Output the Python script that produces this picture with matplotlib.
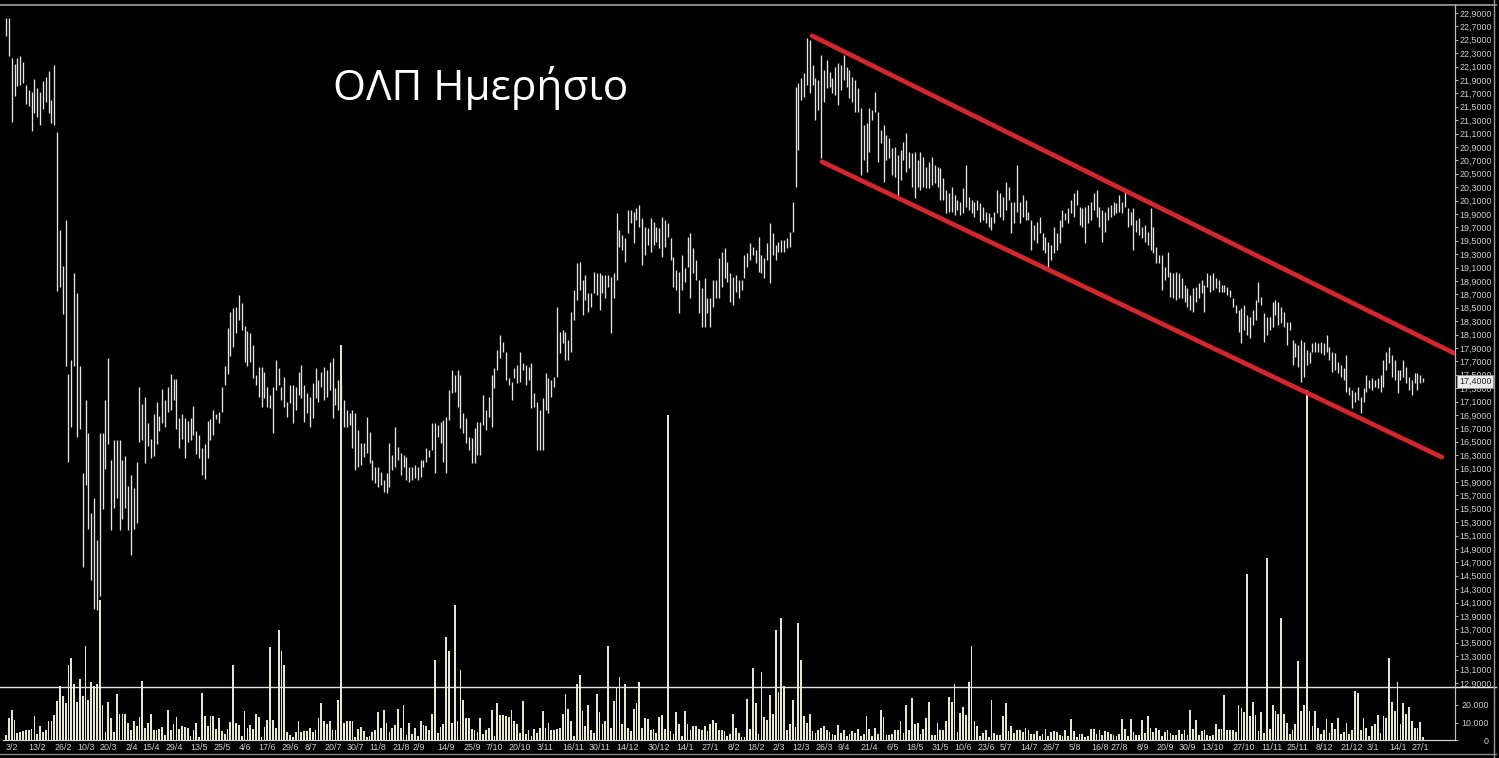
import numpy as np
import matplotlib
matplotlib.use("Agg")
import matplotlib.pyplot as plt
from matplotlib.lines import Line2D
import matplotlib.transforms as mtransforms

plt.rcParams['font.family'] = ['Liberation Sans', 'DejaVu Sans']

# ---------------- data (daily high / low, volume in thousands) ----------------
high_1 = [22.82, 22.82, 22.23, 22.14, 22.23, 22.26, 22.17, 21.83, 21.75, 21.72, 21.91, 21.78, 21.72, 21.89, 21.95, 22.03, 21.60, 22.12,
          21.12, 19.66, 19.12, 19.81, 17.51, 17.72, 19.02, 18.72, 17.63, 16.03,
          17.12, 16.63, 15.44, 15.66, 15.03, 16.63, 16.63, 17.12, 17.75, 16.23,
          16.53, 16.53, 16.53, 16.23, 16.29, 15.84, 16.00, 15.81, 16.20, 17.32,
          17.06, 17.17, 16.78, 16.54, 16.91, 17.09, 16.88, 17.29, 17.12, 17.32,
          17.51, 17.44, 17.44, 16.86, 16.91, 16.86, 16.81, 16.86, 17.03, 16.66,
          16.60, 16.41, 16.47, 16.81, 16.84, 16.97, 16.91, 16.94, 17.32, 17.63,
          18.20, 18.44, 18.50, 18.51, 18.69, 18.57, 18.23, 18.15]
low_1 = [22.55, 22.26, 21.28, 21.66, 21.81, 21.83, 21.86, 21.54, 21.51, 21.14, 21.41, 21.35, 21.23, 21.47, 21.57, 21.41, 21.26, 21.23,
         18.75, 18.81, 18.41, 17.63, 16.20, 16.72, 17.63, 16.57, 16.69, 14.63,
         15.86, 15.20, 14.44, 14.00, 13.99, 14.20, 15.50, 16.09, 16.47, 15.18,
         15.51, 15.66, 15.18, 15.35, 15.51, 15.18, 14.81, 15.20, 15.29, 16.50,
         16.53, 16.18, 16.44, 16.26, 16.29, 16.47, 16.66, 16.78, 16.72, 16.94,
         16.97, 17.12, 16.69, 16.41, 16.54, 16.26, 16.50, 16.53, 16.60, 16.32,
         16.26, 16.00, 15.94, 16.26, 16.53, 16.60, 16.84, 16.78, 16.94, 17.35,
         17.51, 17.78, 17.91, 18.12, 18.32, 18.17, 17.69, 17.63]

high_2 = [18.13, 17.95, 17.50, 17.62, 17.62, 17.54, 17.32, 17.20, 17.32, 17.72,
          17.60, 17.32, 17.47, 17.09, 17.35, 17.35, 17.32, 17.54, 17.65, 17.35,
          17.23, 17.17, 17.38, 17.60, 17.42, 17.54, 17.62, 17.57, 17.69, 17.75,
          17.30, 17.42, 17.35, 17.12, 16.97, 16.93, 16.97, 16.93, 16.68, 16.48,
          16.48, 16.87, 16.65, 16.23, 16.12, 16.12, 16.05, 15.93, 16.03, 16.48,
          16.30, 16.72, 16.42, 16.33, 16.30, 16.27, 16.12, 16.12, 16.15, 16.12,
          16.23, 16.23, 16.41, 16.38, 16.78, 16.78, 16.75, 16.80, 16.83, 16.87,
          17.27, 17.57, 17.50, 17.57, 17.50, 16.93, 16.86, 16.57, 16.56, 16.70,
          16.80, 16.80, 17.20, 16.97, 17.17, 17.50, 17.60, 17.87, 18.10, 17.99,
          17.84, 17.45, 17.39, 17.60, 17.65, 17.84, 17.68, 17.65, 17.62, 17.68,
          17.23, 17.09, 16.97]
low_2 = [17.69, 17.45, 17.35, 17.17, 17.02, 17.15, 17.02, 17.00, 16.63, 17.27,
         17.35, 17.12, 17.02, 16.87, 17.08, 16.78, 16.97, 17.20, 17.15, 16.80,
         16.93, 16.72, 16.86, 17.15, 17.09, 17.32, 17.12, 17.17, 17.27, 16.86,
         17.05, 16.97, 17.12, 16.72, 16.72, 16.75, 16.41, 16.08, 16.12, 16.15,
         16.27, 16.33, 16.18, 15.93, 15.88, 15.83, 15.86, 15.75, 15.74, 15.83,
         16.08, 16.12, 16.23, 16.00, 16.12, 15.93, 15.90, 15.93, 15.96, 15.93,
         15.97, 16.12, 16.20, 16.27, 16.38, 16.03, 16.57, 16.48, 16.20, 16.03,
         16.83, 17.23, 17.24, 17.02, 16.70, 16.63, 16.48, 16.38, 16.18, 16.18,
         16.30, 16.30, 16.75, 16.68, 16.87, 16.72, 17.30, 17.57, 17.75, 17.84,
         17.42, 17.35, 17.12, 17.45, 17.38, 17.39, 17.57, 17.35, 17.42, 17.00,
         17.02, 16.38, 16.38]

high_3 = [17.15, 17.53, 17.45, 17.42, 17.47, 18.51, 18.14, 18.17, 18.14, 18.02,
          18.44, 18.77, 19.17, 19.18, 18.91, 18.99, 18.72, 18.72, 19.03, 19.02,
          19.02, 18.99, 18.99, 18.99, 18.96, 19.02, 19.91, 19.66, 19.59, 19.54,
          19.96, 19.96, 19.93, 19.99, 20.03, 19.84, 19.71, 19.69, 19.84, 19.78,
          19.71, 19.69, 19.86, 19.81, 19.77, 19.54, 19.26, 19.06, 19.03, 19.29,
          19.09, 19.56, 19.62, 19.39, 19.21, 18.91, 18.79, 18.94, 18.65, 18.65,
          18.91, 18.91, 19.24, 19.33, 19.39, 19.18, 19.02, 18.96, 18.99, 18.91,
          18.91, 19.29, 19.32, 19.47, 19.41, 19.36, 19.56, 19.29, 19.24, 19.47,
          19.77, 19.62, 19.44, 19.48, 19.51, 19.51, 19.54, 19.63, 20.08, 21.80]
low_3 = [16.38, 16.97, 16.93, 17.17, 17.32, 17.47, 17.83, 17.97, 17.72, 17.72,
         17.84, 18.32, 18.62, 18.77, 18.39, 18.62, 18.44, 18.51, 18.72, 18.69,
         18.47, 18.72, 18.65, 18.81, 18.12, 18.65, 18.91, 19.41, 19.36, 19.18,
         19.62, 19.77, 19.47, 19.81, 19.71, 19.14, 19.29, 19.44, 19.33, 19.44,
         19.48, 19.39, 19.26, 19.41, 19.56, 19.21, 18.81, 18.77, 18.42, 18.77,
         18.89, 19.11, 18.65, 19.02, 18.91, 18.42, 18.21, 18.21, 18.42, 18.21,
         18.51, 18.65, 18.65, 18.81, 18.94, 18.89, 18.59, 18.54, 18.74, 18.65,
         18.77, 18.94, 19.11, 19.21, 19.29, 19.17, 19.03, 19.02, 18.94, 19.21,
         18.87, 19.29, 19.21, 19.33, 19.33, 19.33, 19.39, 19.41, 19.63, 20.30]

high_4 = [21.86, 21.93, 22.00, 22.53, 22.50, 22.12, 21.93, 21.90, 22.27, 22.05,
          22.20, 22.02, 21.93, 22.09, 22.15, 22.12, 22.27, 22.09, 22.05, 21.95,
          21.90, 21.78, 21.48, 21.23, 21.26, 21.48, 21.45, 21.72, 21.42, 21.15,
          21.23, 21.08, 21.03, 20.89, 20.90, 20.78, 20.86, 20.97, 21.11, 20.83,
          20.81, 20.83, 20.71, 20.83, 20.75, 20.60, 20.68, 20.75, 20.63, 20.60,
          20.59, 20.44, 20.26, 20.21, 20.30, 20.18, 20.11, 20.08, 20.29, 20.63,
          20.15, 20.11, 20.08, 20.11, 20.06, 20.00, 19.93, 19.91, 19.86, 19.93,
          20.26, 20.21, 20.15, 20.38, 20.30, 20.08, 20.08, 20.63, 20.08, 20.18,
          20.11, 19.93, 19.81, 19.74, 19.78, 19.86, 19.62, 19.56, 19.48, 19.44,
          19.71, 19.62, 19.81, 19.96, 19.91, 19.99, 20.11, 20.21, 20.26, 20.00,
          19.99, 20.00, 20.03, 20.08, 20.21, 20.26, 20.00, 19.96, 19.93, 20.00,
          20.03, 20.08, 20.06, 20.18, 20.08, 20.23]
low_4 = [20.86, 21.60, 21.65, 21.83, 21.71, 21.83, 21.30, 21.45, 20.74, 21.57,
         21.78, 21.80, 21.71, 21.68, 21.53, 21.75, 21.90, 21.80, 21.63, 21.57,
         21.42, 21.42, 20.48, 20.71, 20.53, 20.83, 21.30, 21.42, 20.68, 20.96,
         20.38, 20.71, 20.74, 20.48, 20.45, 20.11, 20.41, 20.71, 20.53, 20.59,
         20.30, 20.14, 20.30, 20.26, 20.30, 20.29, 20.29, 20.33, 20.36, 20.30,
         20.11, 20.11, 19.91, 19.93, 19.93, 19.89, 19.96, 19.89, 19.91, 20.00,
         19.96, 19.91, 19.86, 19.96, 19.78, 19.81, 19.77, 19.71, 19.66, 19.77,
         19.91, 19.86, 19.81, 19.96, 20.11, 19.62, 19.77, 19.93, 19.77, 19.86,
         19.81, 19.81, 19.36, 19.51, 19.47, 19.62, 19.36, 19.32, 19.09, 19.21,
         19.32, 19.36, 19.47, 19.71, 19.81, 19.77, 19.91, 19.86, 20.03, 19.74,
         19.71, 19.47, 19.77, 19.81, 19.96, 19.86, 19.71, 19.48, 19.63, 19.81,
         19.86, 19.89, 19.91, 19.93, 19.91, 20.00]

high_5 = [19.99, 19.93, 19.99, 19.81, 19.84, 19.71, 19.74, 19.63, 19.99, 19.71,
          19.41, 19.29, 19.29, 19.11, 19.33, 19.03, 19.02, 19.03, 19.02, 18.94,
          18.84, 18.79, 18.69, 18.79, 18.81, 18.87, 18.91, 18.84, 19.02, 18.99,
          19.02, 18.94, 18.91, 18.84, 18.84, 18.81, 18.77, 18.65, 18.54, 18.47,
          18.50, 18.54, 18.39, 18.36, 18.47, 18.62, 18.88, 18.66, 18.42, 18.36,
          18.36, 18.59, 18.62, 18.59, 18.51, 18.44, 18.29, 18.29, 18.02, 17.97,
          17.94, 18.02, 17.99, 17.87, 17.84, 17.97, 17.99, 17.97, 17.99, 17.97,
          18.09, 17.92, 17.84, 17.83, 17.69, 17.65, 17.60, 17.80, 17.32, 17.27,
          17.24, 17.32, 17.17, 17.30, 17.50, 17.42, 17.45, 17.42, 17.45, 17.50,
          17.72, 17.84, 17.92, 17.80, 17.72, 17.57, 17.57, 17.72, 17.62, 17.47,
          17.42, 17.53, 17.53, 17.50, 17.45]
low_5 = [19.71, 19.74, 19.36, 19.63, 19.59, 19.54, 19.48, 19.44, 19.36, 19.32,
         19.17, 19.17, 18.77, 18.91, 18.96, 18.66, 18.65, 18.62, 18.65, 18.65,
         18.59, 18.51, 18.47, 18.44, 18.59, 18.65, 18.72, 18.44, 18.81, 18.74,
         18.77, 18.79, 18.74, 18.74, 18.74, 18.69, 18.66, 18.51, 18.42, 18.14,
         17.97, 18.17, 18.09, 18.05, 18.24, 18.32, 18.59, 18.54, 17.99, 18.09,
         18.17, 18.21, 18.39, 18.24, 18.27, 18.21, 17.94, 18.17, 17.65, 17.77,
         17.62, 17.39, 17.47, 17.65, 17.68, 17.84, 17.84, 17.84, 17.83, 17.80,
         17.84, 17.72, 17.54, 17.57, 17.53, 17.47, 17.42, 17.24, 17.20, 17.00,
         17.09, 17.12, 16.93, 17.09, 17.24, 17.30, 17.27, 17.32, 17.30, 17.24,
         17.32, 17.57, 17.68, 17.47, 17.42, 17.23, 17.42, 17.47, 17.38, 17.27,
         17.20, 17.38, 17.27, 17.38, 17.39]

vol_1 = [3, 12.5, 17, 11.5, 4, 4.5, 5, 5.5, 6, 6.5,
         13.5, 3.5, 8, 4.5, 5.5, 11, 11, 14.5, 22.5, 31,
         25, 21, 43, 47, 32, 22, 35, 25, 54, 23,
         33, 31, 32, 80, 20, 4.5, 22, 12.7, 4.5, 26.5,
         15, 15, 15, 10, 5.5, 11, 8, 13, 34, 7,
         10, 15, 6, 6, 6.5, 7.5, 3, 17, 5.5, 9,
         13, 6.5, 8, 7.5, 7, 2.5, 5.5, 10, 1.5, 27,
         14, 8, 13.5, 13.5, 6.5, 12.5, 5, 3.5, 6.5, 10.5,
         43, 9.5, 8.5, 2.5, 16.5, 7, 8.5, 6.5, 15, 13,
         2, 7.5, 11.5, 53, 11.5, 7, 63, 51, 43, 4.5,
         3, 1.5, 4.5, 11, 4.5, 5, 5, 7, 4.5, 5.5,
         12.7, 21, 11, 9, 11, 5.5, 6, 23, 226, 9.5,
         11, 11, 11, 1.5, 6.5, 7.5, 5, 2, 2.5, 4.5,
         6, 16, 7, 17, 10, 4.5, 7, 8.5, 18, 7,
         20, 3, 9.5, 3.5, 7, 2.5, 11, 8.5, 8, 6,
         15, 46, 4, 7.5, 9, 59, 51, 10, 77, 11,
         40, 23, 12.5, 12.5, 6.5, 6, 4.5, 12.7, 3.5, 6,
         7, 17, 2.5, 21]
vol_2 = [14.5, 14.5, 13.5, 13, 17, 11, 9, 4, 22.5, 3.5,
         6, 2.5, 6.5, 4, 7, 16.5, 6.7, 9.5, 6, 6,
         6.5, 7, 15, 26.5, 18, 11, 2.5, 32, 37, 16.5,
         8, 20, 6, 4, 26.5, 16, 9, 11, 54, 7,
         22.5, 30, 36, 9, 32, 7, 5, 18, 21, 33,
         6.7, 12.5, 12, 6, 6.5, 4, 13, 14.5, 6.5, 186,
         5, 3.5, 16, 9, 2.5, 16.5, 9, 5.5, 8, 8,
         6.5, 6, 8, 5, 9, 11.7, 10, 6, 5.5, 5,
         2.5, 3.5, 15, 6.7, 4, 1.5, 2, 23.5, 6.5, 41,
         21, 3.5, 39, 13, 11.5, 26, 15, 63, 27.5, 70,
         31, 5.5, 9, 23, 7.5, 67, 46, 14, 9.5, 15,
         5, 4, 5.5, 7, 8, 6, 4.5, 3.5, 3, 8.5,
         4, 6, 2.5, 3.5, 5, 4, 6.5, 2.5, 3.5, 14,
         6.5, 2.5, 7, 3.5, 17, 13, 3, 3, 3.5, 5.5,
         6, 11, 4, 20, 5.5, 24, 9, 10, 3.5, 6.5,
         12.7, 22, 3, 3, 10, 6, 6, 11, 24.5, 22,
         32, 4.5, 15.5, 19, 14.5, 33, 54, 11, 8, 2.5,
         4, 5.5, 2, 23, 4, 3]
vol_3 = [3, 14, 21, 5, 8, 4, 6, 5.5, 4.5, 7,
         5.5, 3.5, 3.5, 5, 2.5, 3.5, 6.5, 2.5, 4.5, 5,
         4.5, 3, 2.5, 5.5, 2.5, 12, 5, 1.5, 3.5, 3.5,
         2, 2.5, 6.5, 6.5, 3.5, 5.5, 3, 5, 4.5, 3.5,
         3, 2.5, 3.5, 12, 6.5, 2.5, 12, 4.5, 3, 3,
         11.5, 4, 13.5, 7, 4.5, 7, 6, 2.5, 4.5, 5.5,
         4, 3, 3, 5.5, 3.5, 6, 3, 17, 6.5, 11.7,
         3, 5, 6, 3, 2.5, 3, 9, 6.5, 6.5, 25.5,
         5.5, 5.5, 6, 4.5, 20, 18.5, 16, 95, 14, 22,
         14.5, 5, 16, 4, 104, 6.5, 20, 16.3, 15, 70,
         15, 9.5, 3.5, 5.5, 9, 45, 16.5, 20, 200, 16.5,
         8, 16.5, 7, 3.5, 6, 12, 4, 10, 6.5, 12.5,
         3.5, 4.5, 9.5, 3.5, 6, 28, 27, 6, 12.5, 6.7,
         2.5, 8, 9, 14.5, 4, 13.5, 12.7, 47, 22, 16.5,
         33, 9, 21, 15, 19, 11, 7, 7, 10.5, 1.5]

date_labels = ["3/2", "13/2", "26/2", "10/3", "20/3", "2/4", "15/4", "29/4", "13/5", "25/5",
               "4/6", "17/6", "29/6", "8/7", "20/7", "30/7", "11/8", "21/8", "2/9", "14/9",
               "25/9", "7/10", "20/10", "3/11", "16/11", "30/11", "14/12", "30/12", "14/1", "27/1",
               "8/2", "18/2", "2/3", "12/3", "26/3", "9/4", "21/4", "6/5", "18/5", "31/5",
               "10/6", "23/6", "5/7", "14/7", "26/7", "5/8", "16/8", "27/8", "8/9", "20/9",
               "30/9", "13/10", "27/10", "11/11", "25/11", "8/12", "21/12", "3/1", "14/1", "27/1"]
date_index = [0, 8, 17, 25, 33, 42, 48, 56, 65, 73,
              82, 89, 97, 105, 112, 120, 128, 136, 143, 152,
              161, 169, 177, 187, 196, 205, 215, 226, 236, 245,
              254, 261, 270, 277, 285, 293, 301, 310, 317, 326,
              334, 342, 350, 357, 365, 374, 382, 389, 398, 405,
              413, 421, 432, 442, 451, 461, 470, 479, 487, 495]

channel_upper_x = [283.8, 510.0]
channel_upper_y = [22.56, 17.82]
channel_lower_x = [287.3, 505.6]
channel_lower_y = [20.68, 16.27]
last_price = 17.40
title_text = "ΟΛΠ Ημερήσιο"

# ---------------- assemble ----------------
high = np.array(high_1 + high_2 + high_3 + high_4 + high_5)
low = np.array(low_1 + low_2 + low_3 + low_4 + low_5)
vol = np.array(vol_1 + vol_2 + vol_3) * 1000.0
n = min(len(high), len(low), len(vol))
high, low, vol = high[:n], low[:n], vol[:n]
idx = np.arange(n)

W, H = 1499, 758
fig = plt.figure(figsize=(W / 100, H / 100), dpi=100, facecolor='black')
L, R, T, B = 3, 1455, 5, 740
ax = fig.add_axes([L / W, 1 - B / H, (R - L) / W, (B - T) / H])
ax.set_facecolor('black')
axv = ax.twinx()
ax.yaxis.tick_right()
ax.set_zorder(2)
ax.patch.set_visible(False)
axv.set_zorder(1)

ppb = 2.84
ax.set_xlim(-(6 - L) / ppb, (R - 6) / ppb)
ax.set_ylim(22.9 - (B - 13) / 67.0, 22.9 + (13 - T) / 67.0)
axv.set_ylim(0, (B - T) / 17.5 * 10000)

# volume
axv.bar(idx, vol, width=0.62, color='#e6e6c8', linewidth=0)
# price bars
ax.vlines(idx, low, high, colors='#e4e4e4', linewidth=0.95)
# channel
ax.plot(channel_upper_x, channel_upper_y, color='#d4262f', linewidth=3.4, solid_capstyle='round', zorder=5)
ax.plot(channel_lower_x, channel_lower_y, color='#d4262f', linewidth=3.4, solid_capstyle='round', zorder=5)

# price axis
pticks = np.round(np.arange(12.9, 22.91, 0.2), 1)
ax.set_yticks(pticks)
ax.set_yticklabels([("%.4f" % v).replace('.', ',') for v in pticks])
ax.tick_params(axis='y', which='both', colors='#b8b8b8', labelcolor='#cfcfcf', labelsize=6.4,
               length=2.2, width=0.7, pad=1, direction='out', right=True, left=False,
               labelright=True, labelleft=False)
# volume axis
vticks = [0, 10000, 20000]
axv.set_yticks(vticks)
axv.set_yticklabels(["0", "10.000", "20.000"])
axv.tick_params(axis='y', colors='#b8b8b8', labelcolor='#cfcfcf', labelsize=6.4,
                length=2.2, width=0.7, pad=22, direction='out')
for t in axv.get_yticklabels():
    t.set_horizontalalignment('right')

# dates
ax.set_xticks(date_index)
ax.set_xticklabels(date_labels)
ax.tick_params(axis='x', colors='#b8b8b8', labelcolor='#cfcfcf', labelsize=6.4, length=0, pad=2.2)
for t in ax.get_xticklabels():
    t.set_horizontalalignment('left')

for a in (ax, axv):
    for s in a.spines.values():
        s.set_visible(False)
ax.spines['right'].set_visible(True)
ax.spines['right'].set_color('#bdbdbd')
ax.spines['right'].set_linewidth(0.9)
ax.spines['bottom'].set_visible(True)
ax.spines['bottom'].set_color('#d0d0d0')
ax.spines['bottom'].set_linewidth(0.9)

# last price box
trans = mtransforms.blended_transform_factory(ax.transAxes, ax.transData)
ax.text((1459 - L) / (R - L), last_price, ("%.4f" % last_price).replace('.', ','), transform=trans,
        ha='left', va='center', fontsize=6.4, color='#222222', zorder=10, clip_on=False,
        bbox=dict(boxstyle='square,pad=0.2', facecolor='#ececec', edgecolor='#9a9a9a', linewidth=0.6))

# frame lines (figure level)
def fline(x0, y0, x1, y1, color, lw):
    fig.add_artist(Line2D([x0 / W, x1 / W], [1 - y0 / H, 1 - y1 / H], transform=fig.transFigure,
                          color=color, linewidth=lw))

fline(0, 687, 1496, 687, '#e6e6e6', 1.0)
fline(0, 5, 1496, 5, '#8a8a8a', 1.4)
fline(0, 754, 1496, 754, '#8a8a8a', 1.0)
fline(1494, 0, 1494, 758, '#9a9a9a', 1.0)

# title
fig.text(333 / W, 1 - 100 / H, title_text, color='white', fontsize=30.5, family=['Open Sans', 'DejaVu Sans'],
         ha='left', va='baseline')

fig.savefig('out.png', dpi=100, facecolor='black')
